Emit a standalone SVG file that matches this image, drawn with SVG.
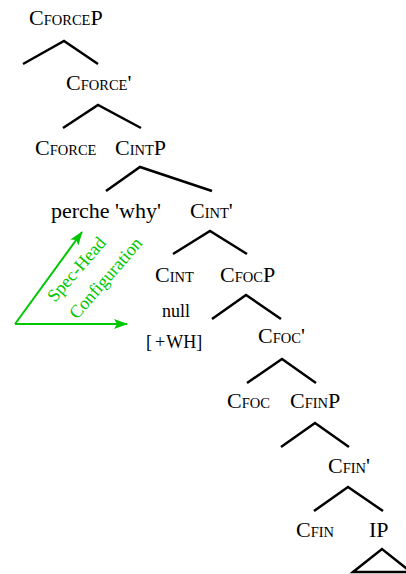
<svg xmlns="http://www.w3.org/2000/svg" width="406" height="574" viewBox="0 0 406 574">
<style>
text{font-family:"Liberation Serif","Times New Roman",serif;font-size:22px;fill:#000}
.s{font-size:14.5px}
.sm{font-size:18px}
.g{fill:#00c800;font-size:18px}
.ln{fill:none;stroke:#000;stroke-width:2.5;stroke-linejoin:miter}
.ar{fill:none;stroke:#00c800;stroke-width:2}
</style>
<defs>
<marker id="ah" viewBox="0 0 14 10" refX="13" refY="5" markerWidth="14" markerHeight="10" markerUnits="userSpaceOnUse" orient="auto">
<path d="M0,0 L14,5 L0,10 L3,5 Z" fill="#00c800"/>
</marker>
</defs>
<rect width="406" height="574" fill="#fff"/>
<g id="connectors">
<polyline class="ln" points="23,64 64,41 98,64"/>
<polyline class="ln" points="63,128 98,105 141,128"/>
<polyline class="ln" points="106,191 140,167 212,191"/>
<polyline class="ln" points="173,254 210,231 247,254"/>
<polyline class="ln" points="212,319 246,295 281,319"/>
<polyline class="ln" points="247,383 282,359 316,383"/>
<polyline class="ln" points="281,447 315,423 349,447"/>
<polyline class="ln" points="314,511 348,487 383,511"/>
<polygon class="ln" points="353,572 382,549 411,572"/>
<line class="ar" x1="15" y1="324" x2="82" y2="232" marker-end="url(#ah)"/>
<line class="ar" x1="15" y1="324" x2="127" y2="324" marker-end="url(#ah)"/>
</g>
<g id="n-CForceP"><text x="29" y="25">C<tspan class="s">FORCE</tspan>P</text></g>
<g id="n-CForceBar"><text x="66" y="90">C<tspan class="s">FORCE</tspan>'</text></g>
<g id="n-CForce"><text x="35" y="155">C<tspan class="s">FORCE</tspan></text></g>
<g id="n-CIntP"><text x="115" y="155">C<tspan class="s">INT</tspan>P</text></g>
<g id="n-perche"><text x="51" y="218">perche 'why'</text></g>
<g id="n-CIntBar"><text x="190" y="218">C<tspan class="s">INT</tspan>'</text></g>
<g id="n-CInt"><text x="155" y="282">C<tspan class="s">INT</tspan></text>
<text class="sm" x="162" y="317">null</text>
<text class="sm" x="146" y="348">[<tspan dx="3">+</tspan><tspan dx="1">WH]</tspan></text></g>
<g id="n-CFocP"><text x="220" y="282">C<tspan class="s">FOC</tspan>P</text></g>
<g id="n-CFocBar"><text x="258" y="343">C<tspan class="s">FOC</tspan>'</text></g>
<g id="n-CFoc"><text x="227" y="408">C<tspan class="s">FOC</tspan></text></g>
<g id="n-CFinP"><text x="290" y="408">C<tspan class="s">FIN</tspan>P</text></g>
<g id="n-CFinBar"><text x="328" y="473">C<tspan class="s">FIN</tspan>'</text></g>
<g id="n-CFin"><text x="296" y="537">C<tspan class="s">FIN</tspan></text></g>
<g id="n-IP"><text x="369" y="537">IP</text></g>
<g id="label-spec-head">
<text class="g" transform="translate(55,303) rotate(-49)">Spec-Head</text>
<text class="g" transform="translate(77,320) rotate(-49)">Configuration</text>
</g>
</svg>
